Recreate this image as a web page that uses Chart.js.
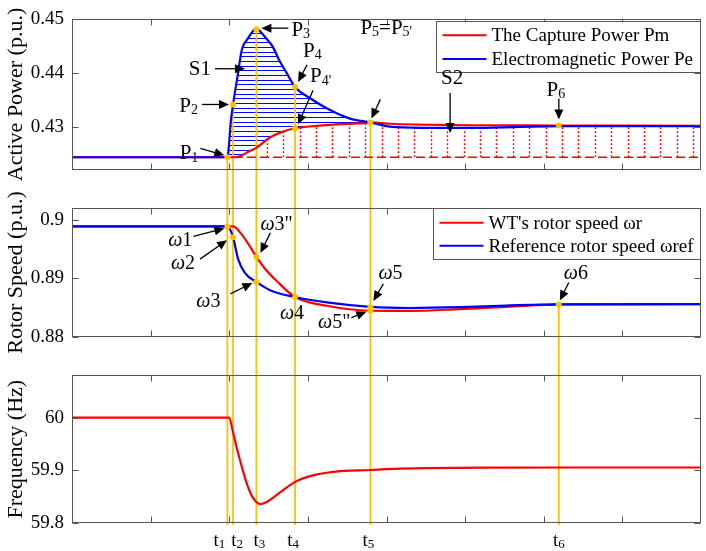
<!DOCTYPE html>
<html>
<head>
<meta charset="utf-8">
<script src="https://cdn.jsdelivr.net/npm/chart.js@4.4.1/dist/chart.umd.min.js"></script>
<style>
  html, body { margin: 0; padding: 0; background: #fff; }
  #wrap { position: relative; width: 706px; height: 551px; }
  canvas { position: absolute; left: 0; }
</style>
</head>
<body>
<div id="wrap">
  <canvas id="c1" width="706" height="189" style="top:0"></canvas>
  <canvas id="c2" width="706" height="167" style="top:189px"></canvas>
  <canvas id="c3" width="706" height="195" style="top:356px"></canvas>
</div>
<script>
const FF = '"Liberation Serif", "Times New Roman", serif'
const RED = '#ff0000', BLUE = '#0000ff', GOLD = '#ffc000', FRAME = '#555555'

// shared time axis
const tPos = [1.976, 2.048, 2.345, 2.837, 3.795, 6.192]
const tLabels = ['t_1', 't_2', 't_3', 't_4', 't_5', 't_6']
const xMinor = [1, 2, 3, 4, 5, 6, 7]

// panel 1 - active power
const pmTime = [0, 2.06, 2.137, 2.265, 2.348, 2.519, 2.688, 2.837, 3.112, 3.367, 3.706, 3.795, 4.046, 4.4, 5.1, 6.192, 7.0, 8.0]
const pmValue = [0.4243, 0.4243, 0.4245, 0.4255, 0.4261, 0.4280, 0.4291, 0.4297, 0.43016, 0.43044, 0.43065, 0.4308, 0.43055, 0.4304, 0.43027, 0.43022, 0.43018, 0.43016]
const peTime = [0, 1.976, 1.99, 2.02, 2.048, 2.112, 2.159, 2.24, 2.30, 2.335, 2.37, 2.45, 2.545, 2.646, 2.731, 2.837, 3.028, 3.282, 3.537, 3.795, 4.046, 4.427, 5.064, 5.70, 6.192, 7.0, 8.0]
const peValue = [0.4243, 0.4243, 0.4255, 0.4310, 0.4341, 0.4400, 0.4443, 0.4465, 0.4478, 0.44825, 0.4481, 0.4468, 0.4451, 0.4421, 0.4400, 0.4374, 0.4353, 0.4331, 0.4315, 0.4308, 0.4300, 0.42979, 0.42979, 0.42995, 0.43008, 0.43012, 0.43012]
const baseStart = 2.06, baseValue = 0.4243
const p1Names = ['P_1', 'P_2', 'P_3', 'P_4', "P_4'", "P_5=P_5'", 'P_6']
const p1Time = [1.976, 2.048, 2.345, 2.837, 2.837, 3.795, 6.192]
const p1Value = [0.4243, 0.43414, 0.44818, 0.43742, 0.4297, 0.4308, 0.4302]
const y1Ticks = [0.43, 0.44, 0.45]

// panel 2 - rotor speed
const wrTime = [0, 2.048, 2.16, 2.243, 2.345, 2.455, 2.604, 2.837, 3.24, 3.795, 4.3, 4.936, 5.53, 6.192, 8.0]
const wrValue = [0.8989, 0.8989, 0.8975, 0.8959, 0.89368, 0.89165, 0.88953, 0.88679, 0.88529, 0.88444, 0.8844, 0.88472, 0.8851, 0.88552, 0.88557]
const wrefTime = [0, 1.976, 2.048, 2.113, 2.201, 2.345, 2.519, 2.837, 3.24, 3.795, 4.3, 4.936, 5.53, 6.192, 8.0]
const wrefValue = [0.8989, 0.8989, 0.89707, 0.8933, 0.8909, 0.88939, 0.88797, 0.88679, 0.88586, 0.8851, 0.88491, 0.88505, 0.88533, 0.88552, 0.88557]
const p2Names = ['ω1', 'ω2', 'ω3"', 'ω3', 'ω4', 'ω5', 'ω5"', 'ω6']
const p2Time = [1.976, 2.048, 2.345, 2.345, 2.837, 3.795, 3.795, 6.192]
const p2Value = [0.8989, 0.89707, 0.89368, 0.88939, 0.88679, 0.8851, 0.88444, 0.88552]
const y2Ticks = [0.88, 0.89, 0.9]

// panel 3 - frequency
const freqTime = [0, 1.998, 2.048, 2.10, 2.163, 2.23, 2.30, 2.392, 2.477, 2.646, 2.837, 3.028, 3.324, 3.795, 4.173, 5.445, 6.718, 8.0]
const freqValue = [60, 60, 59.972, 59.94, 59.905, 59.872, 59.848, 59.836, 59.84, 59.858, 59.878, 59.889, 59.897, 59.9005, 59.903, 59.905, 59.9053, 59.9053]
const y3Ticks = [59.8, 59.9, 60]

const xy = (xs, ys) => xs.map((x, i) => ({ x, y: ys[i] }))

function parseRich(s) {
  const out = []
  for (let i = 0; i < s.length; i++) {
    const c = s[i]
    if (c === '_') {
      let j = i + 1, t = ''
      while (j < s.length && s[j] !== '=') t += s[j++]
      out.push({ t, k: 's' })
      i = j - 1
    } else if (c === 'ω') {
      out.push({ t: c, k: 'i' })
    } else if (out.length && out[out.length - 1].k === 'n') {
      out[out.length - 1].t += c
    } else {
      out.push({ t: c, k: 'n' })
    }
  }
  return out
}

function drawRich(ctx, s, x, cy, size, align) {
  const fonts = { n: `${size}px ${FF}`, s: `${Math.round(size * 0.68)}px ${FF}`, i: `italic ${size}px ${FF}` }
  const parts = parseRich(s)
  let w = 0
  for (const p of parts) { ctx.font = fonts[p.k]; p.w = ctx.measureText(p.t).width; w += p.w }
  let cx = align === 'right' ? x - w : align === 'center' ? x - w / 2 : x
  const base = cy + size * 0.34
  ctx.textAlign = 'left'
  ctx.textBaseline = 'alphabetic'
  ctx.fillStyle = '#000'
  for (const p of parts) {
    ctx.font = fonts[p.k]
    ctx.fillText(p.t, cx, p.k === 's' ? base + size * 0.1 : base)
    cx += p.w
  }
}

function arrow(ctx, x1, y1, x2, y2) {
  const a = Math.atan2(y2 - y1, x2 - x1), L = 10, W = 4.5
  const c = Math.cos(a), s = Math.sin(a)
  ctx.beginPath()
  ctx.moveTo(x1, y1)
  ctx.lineTo(x2 - L * 0.8 * c, y2 - L * 0.8 * s)
  ctx.stroke()
  ctx.beginPath()
  ctx.moveTo(x2, y2)
  ctx.lineTo(x2 - L * c + W * s, y2 - L * s - W * c)
  ctx.lineTo(x2 - L * c - W * s, y2 - L * s + W * c)
  ctx.closePath()
  ctx.fill()
}

// closed path on one side of a dataset line (dir 1 = below, -1 = above)
function sidePath(ctx, chart, idx, dir) {
  const a = chart.chartArea
  const meta = chart.getDatasetMeta(idx)
  meta.dataset.updateControlPoints(a, 'x')
  const pts = meta.data
  const yEdge = dir > 0 ? a.bottom + 60 : a.top - 60
  ctx.beginPath()
  meta.dataset.path(ctx)
  ctx.lineTo(pts[pts.length - 1].x, yEdge)
  ctx.lineTo(pts[0].x, yEdge)
  ctx.closePath()
}

function drawHatch(chart, h) {
  const { ctx, chartArea: a, scales: { x, y } } = chart
  const basePx = y.getPixelForValue(h.base)
  // S1: horizontal blue lines between Pe (above) and Pm (below)
  ctx.save()
  sidePath(ctx, chart, h.upper, 1); ctx.clip()
  sidePath(ctx, chart, h.lower, -1); ctx.clip()
  const x0 = x.getPixelForValue(h.from), x1 = x.getPixelForValue(h.to)
  ctx.beginPath(); ctx.rect(x0, a.top, x1 - x0, a.height); ctx.clip()
  ctx.strokeStyle = BLUE
  ctx.lineWidth = 1
  ctx.beginPath()
  for (let yy = basePx - 3; yy > a.top; yy -= h.step) {
    ctx.moveTo(x0, Math.round(yy) + 0.5); ctx.lineTo(x1, Math.round(yy) + 0.5)
  }
  ctx.stroke()
  ctx.restore()
  // S2: vertical red dotted lines between Pm and its initial level
  ctx.save()
  sidePath(ctx, chart, h.lower, 1); ctx.clip()
  const v0 = x.getPixelForValue(h.vFrom)
  ctx.beginPath(); ctx.rect(v0, a.top, a.right - v0, basePx - a.top); ctx.clip()
  ctx.strokeStyle = RED
  ctx.lineWidth = 1.4
  ctx.setLineDash([2, 2])
  ctx.beginPath()
  for (let px = x.getPixelForValue(h.vStart); px < a.right - 3; px += h.vStep) {
    ctx.moveTo(Math.round(px) + 0.5, basePx); ctx.lineTo(Math.round(px) + 0.5, a.top)
  }
  ctx.stroke()
  ctx.restore()
}

const decor = {
  id: 'decor',
  beforeDatasetsDraw(chart, args, o) {
    const { ctx, chartArea: a, scales: { x, y } } = chart
    if (o.hatch) drawHatch(chart, o.hatch)
    ctx.save()
    ctx.strokeStyle = GOLD
    ctx.lineWidth = 1.8
    for (const g of o.guides) {
      const px = x.getPixelForValue(g.x)
      const y0 = g.from == null ? 0 : y.getPixelForValue(g.from)
      const y1 = o.guideEnd === 'area' ? a.bottom + 2 : chart.height
      ctx.beginPath(); ctx.moveTo(px, y0); ctx.lineTo(px, y1); ctx.stroke()
    }
    ctx.restore()
  },
  afterDraw(chart, args, o) {
    const { ctx, chartArea: a, scales: { x, y } } = chart
    ctx.save()
    // box and inward ticks
    ctx.strokeStyle = FRAME
    ctx.lineWidth = 1
    const L = Math.round(a.left) + 0.5, R = Math.round(a.right) - 0.5
    const T = Math.round(a.top) + 0.5, B = Math.round(a.bottom) - 0.5
    ctx.strokeRect(L, T, R - L, B - T)
    ctx.beginPath()
    for (const v of xMinor) {
      const px = Math.round(x.getPixelForValue(v)) + 0.5
      ctx.moveTo(px, T); ctx.lineTo(px, T + 6)
      ctx.moveTo(px, B); ctx.lineTo(px, B - 6)
    }
    for (const v of o.yTicks) {
      const py = Math.round(y.getPixelForValue(v)) + 0.5
      ctx.moveTo(L, py); ctx.lineTo(L + 6, py)
      ctx.moveTo(R, py); ctx.lineTo(R - 6, py)
    }
    ctx.stroke()

    // legend
    if (o.legend) {
      const items = chart.data.datasets.filter(d => d.inLegend)
      ctx.font = `19px ${FF}`
      const tw = Math.max(...items.map(d => ctx.measureText(d.label).width))
      const w = 6 + 44 + 5 + tw + 8, h = 51
      const left = Math.round(a.right - w) + 0.5, top = Math.round(a.top + o.legend.dy) + 0.5
      ctx.fillStyle = '#fff'
      ctx.fillRect(left, top, R - left, h)
      ctx.strokeRect(left, top, R - left, h)
      items.forEach((d, i) => {
        const yy = top + o.legend.rows[i]
        ctx.strokeStyle = d.borderColor
        ctx.lineWidth = 2
        ctx.beginPath(); ctx.moveTo(left + 6, yy); ctx.lineTo(left + 50, yy); ctx.stroke()
        ctx.fillStyle = '#000'
        ctx.textAlign = 'left'
        ctx.textBaseline = 'middle'
        ctx.font = `19px ${FF}`
        ctx.fillText(d.label, left + 55, yy + 1)
      })
    }

    // point annotations with arrows
    if (o.notes) {
      const pts = chart.getDatasetMeta(o.markerIndex).data
      ctx.strokeStyle = '#000'
      ctx.fillStyle = '#000'
      ctx.lineWidth = 1.3
      for (const n of o.notes) {
        const ax = n.p != null ? pts[n.p].x : x.getPixelForValue(n.pos[0])
        const ay = n.p != null ? pts[n.p].y : y.getPixelForValue(n.pos[1])
        if (n.tip) arrow(ctx, ax + n.tail[0], ay + n.tail[1], ax + n.tip[0], ay + n.tip[1])
        const text = n.text || o.names[n.p]
        drawRich(ctx, text, ax + n.at[0], ay + n.at[1], o.noteSize, n.align)
        ctx.fillStyle = '#000'
      }
    }

    // time labels under the bottom panel
    if (o.xLabels) {
      tPos.forEach((t, i) => {
        drawRich(ctx, tLabels[i], x.getPixelForValue(t) + o.xLabels[i], a.bottom + 17, 19, 'center')
      })
    }
    ctx.restore()
  }
}

function makeChart(id, cfg) {
  return new Chart(document.getElementById(id), {
    type: 'line',
    data: { datasets: cfg.datasets },
    options: {
      responsive: false,
      animation: false,
      events: [],
      layout: { padding: { left: 0, right: 5, top: cfg.padTop, bottom: cfg.padBottom } },
      datasets: { line: { cubicInterpolationMode: 'monotone', pointRadius: 0, fill: false, borderWidth: 2.2 } },
      scales: {
        x: { type: 'linear', min: 0, max: 8, display: false },
        y: {
          min: cfg.yMin,
          max: cfg.yMax,
          afterBuildTicks: s => { s.ticks = cfg.yTicks.map(v => ({ value: v })) },
          afterFit: s => { s.width = 72 },
          grid: { display: false, drawTicks: false },
          border: { display: false },
          ticks: { padding: 8, color: '#000', font: { family: FF, size: 19 }, callback: v => String(v) },
          title: { display: true, text: cfg.title, color: '#000', font: { family: FF, size: 22 }, padding: { top: 3, bottom: 0 } }
        }
      },
      plugins: { legend: { display: false }, tooltip: { enabled: false }, decor: cfg.decor }
    },
    plugins: [decor]
  })
}

const markerStyle = { showLine: false, pointRadius: 3, pointBackgroundColor: GOLD, pointBorderWidth: 0, order: 0 }

makeChart('c1', {
  padTop: 8, padBottom: 7, yMin: 0.422, yMax: 0.45, yTicks: y1Ticks, title: 'Active Power (p.u.)',
  datasets: [
    { label: 'The Capture Power Pm', data: xy(pmTime, pmValue), borderColor: RED, inLegend: true, order: 2 },
    { label: 'Electromagnetic Power Pe', data: xy(peTime, peValue), borderColor: BLUE, inLegend: true, order: 1 },
    { label: 'Pm initial level', data: [{ x: baseStart, y: baseValue }, { x: 8, y: baseValue }], borderColor: RED, borderWidth: 1.3, borderDash: [9, 4], order: 3 },
    { label: 'points', data: xy(p1Time, p1Value), ...markerStyle }
  ],
  decor: {
    yTicks: y1Ticks,
    hatch: { upper: 1, lower: 0, from: tPos[0], to: tPos[4], base: baseValue, step: 4.67, vFrom: baseStart, vStart: 2.477, vStep: 16.4 },
    guides: [0, 1, 2, 3, 5].map(i => ({ x: p1Time[i], from: p1Value[i] })),
    legend: { dy: 1.5, rows: [13.7, 37.5] },
    markerIndex: 3,
    names: p1Names,
    noteSize: 21,
    notes: [
      { p: 0, tip: [-3, -2], tail: [-27, -9], at: [-29, -5], align: 'right' },
      { p: 1, tip: [-4, 0], tail: [-31, 0], at: [-35, 0], align: 'right' },
      { p: 2, tip: [5, -1], tail: [32, -1], at: [35, 0], align: 'left' },
      { p: 3, tip: [3, -5], tail: [12, -22], at: [8, -37], align: 'left' },
      { p: 4, tip: [3, -4], tail: [18, -38], at: [15, -53], align: 'left' },
      { p: 5, tip: [1, -4], tail: [10, -23], at: [-10, -96], align: 'left' },
      { p: 6, tip: [0, -6], tail: [0, -27], at: [-3, -37], align: 'center' },
      { pos: [2.201, 0.4408], text: 'S1', tip: [0, 0], tail: [-30, 0], at: [-34, -1], align: 'right' },
      { pos: [4.809, 0.42882], text: 'S2', tip: [0, 0], tail: [0, -40], at: [2, -56], align: 'center' }
    ]
  }
})

makeChart('c2', {
  padTop: 6, padBottom: 5, yMin: 0.88, yMax: 0.902, yTicks: y2Ticks, title: 'Rotor Speed (p.u.)',
  datasets: [
    { label: "WT's rotor speed ωr", data: xy(wrTime, wrValue), borderColor: RED, inLegend: true, order: 2 },
    { label: 'Reference rotor speed ωref', data: xy(wrefTime, wrefValue), borderColor: BLUE, inLegend: true, order: 1 },
    { label: 'points', data: xy(p2Time, p2Value), ...markerStyle }
  ],
  decor: {
    yTicks: y2Ticks,
    guides: tPos.slice(0, 5).map(t => ({ x: t, from: null })).concat([{ x: p2Time[7], from: p2Value[7] }]),
    legend: { dy: 0, rows: [14.3, 37.3] },
    markerIndex: 2,
    names: p2Names,
    noteSize: 20,
    notes: [
      { p: 0, tip: [-3, 2], tail: [-34, 10], at: [-35, 13], align: 'right' },
      { p: 1, tip: [-6, 3], tail: [-33, 22], at: [-38, 25], align: 'right' },
      { p: 2, tip: [4, -4], tail: [14, -24], at: [4, -34], align: 'left' },
      { p: 3, tip: [-4, 1], tail: [-26, 12], at: [-36, 18], align: 'right' },
      { p: 4, at: [-3, 15], align: 'center' },
      { p: 5, tip: [3, -6], tail: [13, -23], at: [8, -35], align: 'left' },
      { p: 6, tip: [-4, 1], tail: [-19, 7], at: [-20, 10], align: 'right' },
      { p: 7, tip: [1, -4], tail: [10, -22], at: [5, -32], align: 'left' }
    ]
  }
})

makeChart('c3', {
  padTop: 8, padBottom: 28, yMin: 59.8, yMax: 60.08, yTicks: y3Ticks, title: 'Frequency (Hz)',
  datasets: [
    { label: 'Frequency', data: xy(freqTime, freqValue), borderColor: RED, order: 1 }
  ],
  decor: {
    yTicks: y3Ticks,
    guides: tPos.map(t => ({ x: t, from: null })),
    guideEnd: 'area',
    xLabels: [-8, 4, 3, -2, -2, 0]
  }
})
</script>
</body>
</html>
